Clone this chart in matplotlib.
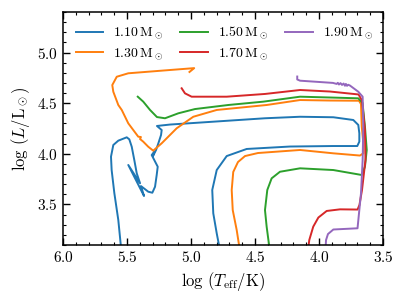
import numpy as np
import matplotlib
matplotlib.use('Agg')
import matplotlib.pyplot as plt
from matplotlib.ticker import MultipleLocator

plt.rcParams['font.family'] = 'serif'
plt.rcParams['font.serif'] = ['cmr10']
plt.rcParams['mathtext.fontset'] = 'cm'
plt.rcParams['axes.unicode_minus'] = False
plt.rcParams['axes.formatter.use_mathtext'] = True

# =========================
# TRACK DATA (log Teff, log L)
# =========================
masses = ['1.10', '1.30', '1.50', '1.70', '1.90']

teff_110 = [5.547, 5.568, 5.599, 5.620, 5.625, 5.607, 5.568, 5.502, 5.482, 5.463,
            5.443, 5.424, 5.398, 5.490, 5.367, 5.391, 5.334, 5.302, 5.281, 5.268,
            5.260, 5.287, 5.307, 5.287, 5.297, 5.273, 5.255, 5.234, 5.229, 5.266,
            5.164, 4.422, 4.148, 3.888, 3.732, 3.693, 3.685, 3.685, 3.701, 3.891,
            4.227, 4.565, 4.721, 4.799, 4.834, 4.826, 4.799, 4.777]
logl_110 = [3.080, 3.347, 3.613, 3.840, 3.972, 4.087, 4.130, 4.163, 4.143, 4.070,
            3.939, 3.808, 3.709, 3.890, 3.584, 3.682, 3.626, 3.616, 3.675, 3.791,
            3.873, 3.939, 3.988, 4.021, 3.978, 4.038, 4.104, 4.186, 4.235, 4.275,
            4.289, 4.351, 4.366, 4.361, 4.334, 4.285, 4.203, 4.120, 4.077, 4.077,
            4.072, 4.048, 3.978, 3.840, 3.643, 3.413, 3.215, 3.070]

teff_130 = [4.621, 4.643, 4.674, 4.682, 4.670, 4.633, 4.578, 4.477, 4.148, 3.888,
            3.680, 3.654, 3.656, 3.666, 3.672, 3.688, 3.914, 4.148, 4.409, 4.799,
            4.982, 5.112, 5.229, 5.295, 5.334, 5.373, 5.398, 5.391, 5.412, 5.490,
            5.541, 5.568, 5.607, 5.615, 5.580, 5.490, 5.229, 4.975, 5.012]
logl_130 = [3.070, 3.248, 3.445, 3.643, 3.821, 3.919, 3.978, 4.008, 4.038, 4.005,
            3.983, 4.005, 4.136, 4.268, 4.492, 4.524, 4.526, 4.531, 4.482, 4.433,
            4.366, 4.252, 4.104, 4.031, 4.070, 4.120, 4.146, 4.166, 4.169, 4.301,
            4.433, 4.482, 4.613, 4.679, 4.761, 4.795, 4.821, 4.846, 4.808]

teff_150 = [4.387, 4.409, 4.422, 4.404, 4.370, 4.305, 4.148, 3.888, 3.666, 3.641,
            3.627, 3.641, 3.660, 3.693, 3.914, 4.148, 4.435, 4.709, 4.969, 5.099,
            5.203, 5.266, 5.320, 5.373, 5.416]
logl_150 = [3.070, 3.281, 3.445, 3.643, 3.758, 3.823, 3.857, 3.840, 3.791, 3.873,
            4.038, 4.268, 4.502, 4.548, 4.556, 4.564, 4.515, 4.482, 4.442, 4.400,
            4.351, 4.363, 4.433, 4.515, 4.564]

teff_170 = [4.084, 4.076, 4.045, 4.005, 3.940, 3.836, 3.699, 3.684, 3.664, 3.637,
            3.641, 3.664, 3.691, 3.914, 4.148, 4.422, 4.721, 4.995, 5.047, 5.073]
logl_170 = [3.070, 3.149, 3.281, 3.371, 3.436, 3.452, 3.450, 3.495, 3.643, 3.939,
            4.235, 4.526, 4.586, 4.615, 4.630, 4.591, 4.564, 4.564, 4.597, 4.647]

teff_190 = [3.949, 3.945, 3.930, 3.888, 3.699, 3.685, 3.672, 3.659, 3.654, 3.659,
            3.693, 3.758, 3.772, 3.781, 3.790, 3.797, 3.808, 3.820, 3.832, 3.844,
            3.853, 3.862, 3.891, 4.148, 4.170, 4.170]
logl_190 = [3.070, 3.149, 3.208, 3.253, 3.265, 3.445, 3.610, 3.939, 4.268, 4.564,
            4.613, 4.674, 4.682, 4.671, 4.690, 4.672, 4.694, 4.680, 4.698, 4.684,
            4.701, 4.690, 4.700, 4.722, 4.734, 4.763]

tracks = [(teff_110, logl_110), (teff_130, logl_130), (teff_150, logl_150),
          (teff_170, logl_170), (teff_190, logl_190)]

# =========================
# PLOT
# =========================
fig = plt.figure(figsize=(4.06, 3.03), dpi=100)
ax = fig.add_axes([63/406, 58/303, 320/406, 233/303])

for m, (t, l) in zip(masses, tracks):
    ax.plot(t, l, lw=1.4, label=r'$' + m + r'\,\mathrm{M}_\odot$')

ax.set_xlim(6.0, 3.5)
ax.set_ylim(3.1, 5.4)
ax.xaxis.set_major_locator(MultipleLocator(0.5))
ax.xaxis.set_minor_locator(MultipleLocator(0.1))
ax.yaxis.set_major_locator(MultipleLocator(0.5))
ax.yaxis.set_minor_locator(MultipleLocator(0.1))
ax.tick_params(which='both', direction='in', top=True, right=True, labelsize=11)
ax.tick_params(which='major', length=5, width=1)
ax.tick_params(which='minor', length=2.5, width=0.8)
for s in ax.spines.values():
    s.set_linewidth(1.1)

ax.set_xlabel(r'$\log\,(T_{\rm eff}/{\rm K})$', fontsize=12)
ax.set_ylabel(r'$\log\,(L/{\rm L}_\odot)$', fontsize=12)

ax.legend(loc='upper left', ncol=3, frameon=False, fontsize=10,
          handlelength=2.0, columnspacing=1.2, handletextpad=0.7,
          labelspacing=0.35, borderaxespad=0.5)

fig.savefig('out.png', dpi=100)
